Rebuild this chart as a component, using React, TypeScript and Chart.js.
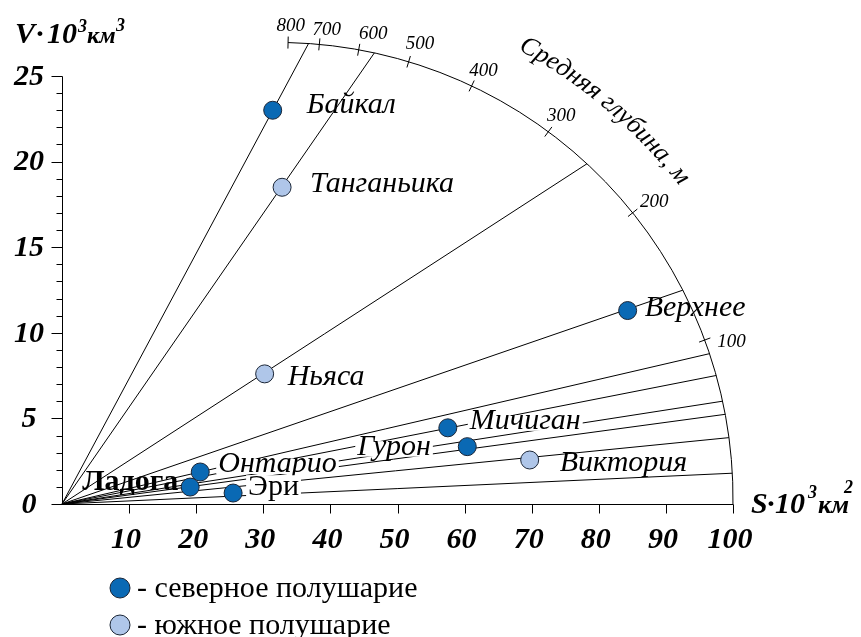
import React, { useEffect, useRef } from 'react';
import { Chart, registerables } from 'chart.js';

Chart.register(...registerables);

// ---------------- data ----------------
const LAKES = ['Байкал', 'Танганьика', 'Ньяса', 'Верхнее', 'Мичиган', 'Гурон', 'Виктория', 'Онтарио', 'Ладога', 'Эри'];
const AREA = [31.4, 32.8, 30.2, 84.3, 57.5, 60.4, 69.7, 20.6, 19.1, 25.5]; // S, 10^3 km2
const VOLUME = [23.0, 18.5, 7.6, 11.3, 4.45, 3.35, 2.57, 1.87, 0.99, 0.64]; // V, 10^3 km3
const HEMISPHERE = ['N', 'S', 'S', 'N', 'N', 'N', 'S', 'N', 'N', 'N'];
const RAY_DEPTH_M = [732, 566, 254, 135, 77, 61, 39, 91, 53, 18]; // mean depth rays
const X_TICKS = [10, 20, 30, 40, 50, 60, 70, 80, 90, 100];
const Y_TICKS = [0, 5, 10, 15, 20, 25];
const Y_MINOR_TICKS = [1, 2, 3, 4, 6, 7, 8, 9, 11, 12, 13, 14, 16, 17, 18, 19, 21, 22, 23, 24];
const DEPTH_TICKS = [800, 700, 600, 500, 400, 300, 200, 100];
const LEGEND_LABELS = ['северное полушарие', 'южное полушарие'];
const DEPTH_TITLE = 'Средняя глубина, м';
// depth scale arc (in data units)
const ARC_CENTER_S = 32.1;
const ARC_CENTER_V = 0.35;
const ARC_RADIUS_S = 67.9;
const ARC_RADIUS_V = 26.61;

// ---------------- style ----------------
const FONT = '"Liberation Serif", "Times New Roman", Times, serif';
const NORTH_FILL = '#0a69b4';
const SOUTH_FILL = '#afc6e9';
const DOT_BORDER = '#1a2536';

type LabelStyle = { dx: number; dy: number; font: string; mask?: number };
const IT = `italic 30px ${FONT}`;
const LABEL_STYLE: Record<string, LabelStyle> = {
  'Байкал': { dx: 34, dy: 3, font: IT },
  'Танганьика': { dx: 28, dy: 5, font: IT },
  'Ньяса': { dx: 23, dy: 11, font: IT },
  'Верхнее': { dx: 17, dy: 5, font: IT },
  'Мичиган': { dx: 22, dy: 1, font: IT, mask: 0.45 },
  'Гурон': { dx: -110, dy: 8, font: IT, mask: 0.45 },
  'Виктория': { dx: 30, dy: 11, font: IT, mask: 0.45 },
  'Онтарио': { dx: 18, dy: 0, font: IT, mask: 0.45 },
  'Ладога': { dx: -108, dy: 3, font: `bold 30px ${FONT}` },
  'Эри': { dx: 15, dy: 2, font: `30px ${FONT}`, mask: 0.66 },
};
const DEPTH_LABEL_NUDGE_X = [0, 3, 8, 2, -1, -4, 0, 1];
const DEPTH_LABEL_NUDGE_Y = [1, 3, 1, -1, 1, -2, 0, 8];

function arcPoint(depthM: number) {
  const k = depthM / 1000;
  const rs2 = ARC_RADIUS_S * ARC_RADIUS_S;
  const rv2 = ARC_RADIUS_V * ARC_RADIUS_V;
  const a = 1 / rs2 + (k * k) / rv2;
  const b = -2 * (ARC_CENTER_S / rs2 + (k * ARC_CENTER_V) / rv2);
  const c = (ARC_CENTER_S * ARC_CENTER_S) / rs2 + (ARC_CENTER_V * ARC_CENTER_V) / rv2 - 1;
  const t = (-b + Math.sqrt(b * b - 4 * a * c)) / (2 * a);
  return { x: t, y: k * t };
}

const nomogramPlugin = {
  id: 'nomogram',
  beforeDatasetsDraw(chart: any) {
    const ctx = chart.ctx as CanvasRenderingContext2D;
    const xs = chart.scales.x;
    const ys = chart.scales.y;
    const px = (v: number) => xs.getPixelForValue(v);
    const py = (v: number) => ys.getPixelForValue(v);
    const x0 = Math.round(px(0)) + 0.5;
    const y0 = Math.round(py(0)) + 0.5;
    ctx.save();
    ctx.strokeStyle = '#000';
    ctx.fillStyle = '#000';
    ctx.lineWidth = 1;
    // axes
    ctx.beginPath();
    ctx.moveTo(x0, Math.round(py(25)) + 0.5);
    ctx.lineTo(x0, y0);
    ctx.lineTo(Math.round(px(100)) + 0.5, y0);
    ctx.stroke();
    // y ticks
    ctx.beginPath();
    for (const v of Y_TICKS) {
      const y = Math.round(py(v)) + 0.5;
      ctx.moveTo(x0 - 11, y);
      ctx.lineTo(x0, y);
    }
    for (const v of Y_MINOR_TICKS) {
      const y = Math.round(py(v)) + 0.5;
      ctx.moveTo(x0 - 6, y);
      ctx.lineTo(x0, y);
    }
    // x ticks
    for (const v of X_TICKS) {
      const x = Math.round(px(v)) + 0.5;
      ctx.moveTo(x, y0);
      ctx.lineTo(x, y0 + 9);
    }
    ctx.stroke();
    // tick labels
    ctx.font = `bold italic 30px ${FONT}`;
    ctx.textAlign = 'center';
    ctx.textBaseline = 'alphabetic';
    for (const v of X_TICKS) {
      ctx.fillText(String(v), px(v) - 3, py(0) + 44);
    }
    ctx.textBaseline = 'middle';
    for (const v of Y_TICKS) {
      ctx.fillText(String(v), px(0) - 33, py(v) + 1);
    }

    // depth arc
    const cx = px(ARC_CENTER_S);
    const cy = py(ARC_CENTER_V);
    const rx = px(ARC_CENTER_S + ARC_RADIUS_S) - cx;
    const ry = cy - py(ARC_CENTER_V + ARC_RADIUS_V);
    const top = arcPoint(DEPTH_TICKS[0]);
    const end = arcPoint(0);
    const a0 = Math.atan2((py(top.y) - cy) / ry, (px(top.x) - cx) / rx);
    const a1 = Math.atan2((py(end.y) - cy) / ry, (px(end.x) - cx) / rx);
    ctx.beginPath();
    ctx.ellipse(cx, cy, rx, ry, 0, a0, a1, false);
    ctx.stroke();
    // depth ticks + labels
    ctx.font = `italic 19px ${FONT}`;
    ctx.textAlign = 'center';
    ctx.textBaseline = 'middle';
    DEPTH_TICKS.forEach((d, i) => {
      const p = arcPoint(d);
      const X = px(p.x);
      const Y = py(p.y);
      let ux = X - cx;
      let uy = Y - cy;
      const len = Math.hypot(ux, uy);
      ux /= len;
      uy /= len;
      ctx.beginPath();
      ctx.moveTo(X - 6 * ux, Y - 6 * uy);
      ctx.lineTo(X + 6 * ux, Y + 6 * uy);
      ctx.stroke();
      const w = ctx.measureText(String(d)).width;
      const ax = X + 11 * ux;
      const ay = Y + 11 * uy;
      ctx.fillText(
        String(d),
        ax + (w / 2) * ux + 2 + DEPTH_LABEL_NUDGE_X[i],
        ay + 6.5 * uy + DEPTH_LABEL_NUDGE_Y[i]
      );
    });
    // curved title
    ctx.font = `italic 26px ${FONT}`;
    ctx.textAlign = 'center';
    ctx.textBaseline = 'alphabetic';
    const rt = rx * 1.117;
    let ang = (-61.8 * Math.PI) / 180;
    for (const ch of DEPTH_TITLE) {
      const w = ctx.measureText(ch).width;
      const mid = ang + w / 2 / rt;
      ctx.save();
      ctx.translate(cx + rt * Math.cos(mid), cy + rt * Math.sin(mid));
      ctx.rotate(mid + Math.PI / 2);
      ctx.fillText(ch, 0, 0);
      ctx.restore();
      ang += w / rt;
    }

    // axis titles
    ctx.textAlign = 'left';
    ctx.textBaseline = 'alphabetic';
    const bi = (s: number) => `bold italic ${s}px ${FONT}`;
    const vx = px(0);
    const vy = py(25);
    const parts = (x: number, y: number, list: [string, number, number, number][]) => {
      for (const [t, size, dx, dy] of list) {
        ctx.font = bi(size);
        ctx.fillText(t, x + dx, y + dy);
      }
    };
    parts(vx - 47, vy - 33, [
      ['V', 30, 0, 0],
      ['·', 30, 21, 0],
      ['10', 30, 32, 0],
      ['3', 18, 63, -11],
      ['км', 24, 72, 0],
      ['3', 18, 101, -12],
    ]);
    parts(px(100) + 18, py(0) + 9, [
      ['S', 30, 0, 0],
      ['·', 30, 16, 0],
      ['10', 30, 24, 0],
      ['3', 18, 57, -15],
      ['км', 26, 67, 0],
      ['2', 18, 93, -20],
    ]);
    ctx.restore();
  },
  afterDatasetsDraw(chart: any) {
    const ctx = chart.ctx as CanvasRenderingContext2D;
    const xs = chart.scales.x;
    const ys = chart.scales.y;
    ctx.save();
    ctx.textAlign = 'left';
    ctx.textBaseline = 'alphabetic';
    LAKES.forEach((name, i) => {
      const st = LABEL_STYLE[name];
      const X = xs.getPixelForValue(AREA[i]) + st.dx;
      const Y = ys.getPixelForValue(VOLUME[i]) + st.dy;
      ctx.font = st.font;
      const w = ctx.measureText(name).width;
      if (st.mask) {
        ctx.fillStyle = '#fff';
        ctx.fillRect(X - 2, Y - st.mask * 30, w + 4, st.mask * 30 + 2);
      }
      ctx.fillStyle = '#000';
      ctx.fillText(name, X, Y);
    });
    ctx.restore();
  },
  afterDraw(chart: any) {
    const ctx = chart.ctx as CanvasRenderingContext2D;
    const xs = chart.scales.x;
    const ys = chart.scales.y;
    const lx = xs.getPixelForValue(0) + 58;
    const ly = ys.getPixelForValue(0) + 84;
    ctx.save();
    const sets = chart.data.datasets.filter((d: any) => d.isLegend);
    sets.forEach((ds: any, i: number) => {
      const y = ly + i * 37;
      ctx.beginPath();
      ctx.arc(lx, y, 10, 0, Math.PI * 2);
      ctx.fillStyle = ds.backgroundColor;
      ctx.fill();
      ctx.lineWidth = 1;
      ctx.strokeStyle = DOT_BORDER;
      ctx.stroke();
      ctx.fillStyle = '#000';
      ctx.font = `30px ${FONT}`;
      ctx.textAlign = 'left';
      ctx.textBaseline = 'alphabetic';
      ctx.fillText('- ' + ds.label, lx + 17, y + 9);
    });
    ctx.restore();
  },
};

export default function App() {
  const ref = useRef<HTMLCanvasElement | null>(null);
  useEffect(() => {
    if (!ref.current) return;
    const rays = LAKES.map((name, i) => ({
      label: 'ray ' + name,
      data: [{ x: 0, y: 0 }, arcPoint(RAY_DEPTH_M[i])],
      showLine: true,
      borderColor: '#000',
      borderWidth: 1,
      pointRadius: 0,
      clip: false,
      order: 5,
    }));
    const pick = (h: string) =>
      LAKES.map((_, i) => i)
        .filter((i) => HEMISPHERE[i] === h)
        .map((i) => ({ x: AREA[i], y: VOLUME[i] }));
    const chart = new Chart(ref.current, {
      type: 'scatter',
      data: {
        datasets: [
          ...rays,
          {
            label: LEGEND_LABELS[0],
            isLegend: true,
            data: pick('N'),
            backgroundColor: NORTH_FILL,
            borderColor: DOT_BORDER,
            borderWidth: 1,
            pointRadius: 9,
            clip: false,
            order: 0,
          },
          {
            label: LEGEND_LABELS[1],
            isLegend: true,
            data: pick('S'),
            backgroundColor: SOUTH_FILL,
            borderColor: DOT_BORDER,
            borderWidth: 1,
            pointRadius: 9,
            clip: false,
            order: 0,
          },
        ] as any,
      },
      options: {
        animation: false,
        responsive: false,
        events: [],
        layout: { padding: { left: 62, right: 128, top: 76, bottom: 133 } },
        scales: {
          x: { type: 'linear', min: 0, max: 100, display: false },
          y: { type: 'linear', min: 0, max: 25, display: false },
        },
        plugins: { legend: { display: false }, tooltip: { enabled: false } },
      },
      plugins: [nomogramPlugin],
    });
    return () => chart.destroy();
  }, []);
  return (
    <div style={{ position: 'fixed', left: 0, top: 0, width: 861, height: 637, background: '#fff' }}>
      <canvas ref={ref} width={861} height={637} style={{ display: 'block' }} />
    </div>
  );
}
